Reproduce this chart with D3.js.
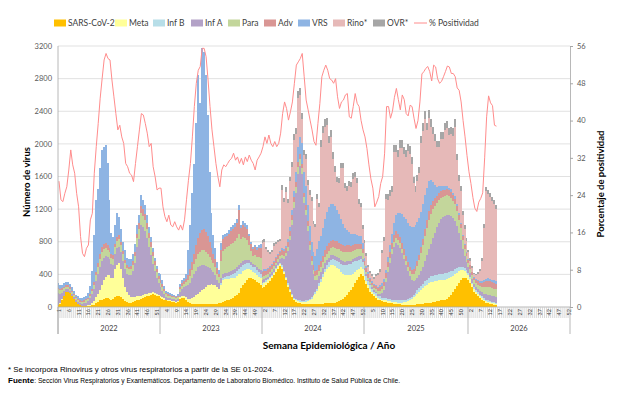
<!DOCTYPE html>
<html>
<head>
<meta charset="utf-8">
<script src="https://cdn.jsdelivr.net/npm/d3@7"></script>
<style>
  body { margin: 0; background: #fff; }
  svg { font-family: Lato, "Liberation Sans", Arial, sans-serif; }
</style>
</head>
<body>
<svg id="chart" width="621" height="394"></svg>
<script>
// ---- data ----
const years = ["2022", "2023", "2024", "2025", "2026"];
const weeksPerYear = [52, 52, 52, 53, 52];
const seriesNames = ["SARS-CoV-2", "Meta", "Inf B", "Inf A", "Para", "Adv", "VRS", "Rino*", "OVR*"];
const seriesColors = ["#FFC000", "#FFFF99", "#B7DEE8", "#B3A2C7", "#C3D69B", "#D99694", "#8EB4E3", "#E6B9B8", "#A6A6A6"];

const sars = [
  // 2022
  20,40,90,140,180,190,170,130,100,60, 40,25,15,15,10,10,15,20,30,50,
  65,80,90,100,110,110,100,90,100,120, 140,140,120,95,70,60,55,55,60,70,
  85,90,100,110,120,130,140,150,155,150, 140,130,
  // 2023
  110,100,90,80,75,70,65,60,55,60, 100,110,110,90,60,45,40,35,35,35,
  35,35,35,35,35,35,35,35,40,40, 45,50,60,70,80,90,100,115,130,150,
  170,230,270,300,330,350,350,340,330,310, 290,270,
  // 2024
  230,250,270,290,320,350,390,430,470,500, 470,400,330,250,180,120,80,60,50,45,
  40,40,40,40,40,40,40,40,40,40, 40,40,45,45,45,50,50,55,60,70,
  80,100,120,150,180,210,250,290,330,370, 400,380,
  // 2025
  330,280,230,190,160,130,110,90,80,70, 65,60,55,50,45,40,40,35,35,30,
  30,30,30,30,30,30,30,35,40,40, 40,45,45,50,55,60,65,70,75,80,
  85,90,100,120,150,180,220,260,300,330, 350,360,350,
  // 2026
  330,290,240,190,160,130,110,90,70,55,45,40,35,30,25
];

const meta = [
  // 2022
  5,5,5,0,0,0,0,0,0,0, 0,0,0,0,5,10,15,25,45,70,
  90,130,180,230,260,280,290,260,250,340, 380,400,340,260,170,120,90,70,60,50,
  45,40,40,35,35,30,30,25,25,20, 20,20,
  // 2023
  20,20,15,10,10,10,10,10,10,10, 20,25,30,35,40,55,70,90,110,130,
  150,170,190,210,230,240,250,240,230,200, 180,220,270,270,260,250,250,240,230,230,
  230,180,170,150,130,110,100,90,90,80, 80,80,
  // 2024
  40,40,35,35,35,30,30,30,30,25, 25,25,25,25,25,25,20,20,20,20,
  20,20,25,30,40,60,90,120,160,220, 270,330,380,420,450,470,470,450,420,390,
  350,310,270,240,210,180,160,140,120,100, 90,80,
  // 2025
  50,40,35,30,25,25,25,20,20,20, 20,20,20,20,20,20,20,20,20,25,
  30,35,45,55,70,90,110,130,150,170, 190,210,230,245,250,250,250,250,250,250,
  245,245,240,230,220,200,180,160,140,120, 100,80,70,
  // 2026
  60,50,40,35,30,30,25,25,20,20,20,20,15,15,15
];

const infB = [
  // 2022
  0,0,0,0,0,0,0,0,0,0, 0,0,0,0,0,0,0,0,0,0,
  0,0,0,0,0,0,0,0,0,0, 0,0,0,0,0,0,0,0,0,0,
  0,0,0,0,0,0,0,0,0,0, 0,0,
  // 2023
  0,0,0,0,0,0,0,0,0,0, 0,0,0,0,0,0,0,0,0,0,
  0,0,0,0,0,0,0,0,0,0, 0,20,30,30,35,40,45,50,55,60,
  70,75,80,80,80,75,70,65,65,60, 60,55,
  // 2024
  20,20,20,15,15,15,15,15,15,15, 15,15,15,15,15,15,15,15,15,15,
  15,15,15,15,20,20,20,20,25,30, 35,40,45,50,55,60,65,70,80,90,
  100,110,120,130,140,140,140,130,120,110, 100,90,
  // 2025
  70,60,50,45,40,35,35,30,30,25, 25,25,25,25,25,25,25,25,25,25,
  25,25,25,25,25,30,35,40,45,50, 55,60,60,65,70,70,75,75,80,80,
  80,80,80,75,70,65,60,55,50,45, 40,35,30,
  // 2026
  25,25,20,20,20,20,15,15,15,15,15,15,15,15,15
];

const infA = [
  // 2022
  150,120,80,60,45,35,30,25,20,20, 20,20,25,30,40,55,80,110,150,200,
  250,280,290,270,250,220,200,180,170,190, 200,200,210,210,220,230,250,270,320,420,
  600,700,870,830,780,680,560,460,350,270, 200,140,
  // 2023
  110,80,50,35,30,30,25,25,25,30, 60,80,100,130,170,200,240,280,300,320,
  320,310,290,260,230,200,170,150,120,90, 70,60,50,45,45,45,45,45,45,45,
  50,50,45,45,40,40,35,35,35,40, 40,45,
  // 2024
  40,35,30,30,30,30,30,35,40,50, 90,150,250,400,600,850,1100,1300,1550,1650,
  1550,1200,1050,850,600,400,250,150,110,90, 80,70,65,60,55,55,50,50,50,45,
  45,40,40,40,40,40,40,40,40,40, 40,35,
  // 2025
  25,20,20,15,15,15,20,25,35,60, 100,200,330,450,560,650,700,680,640,580,
  500,420,340,270,210,170,150,150,160,180, 210,250,300,350,400,460,520,580,630,670,
  690,700,710,700,680,650,600,520,420,330, 220,150,100,
  // 2026
  70,55,45,40,40,45,50,55,60,65,70,70,70,70,70
];

const para = [
  // 2022
  40,40,35,30,25,25,25,25,25,25, 20,20,20,20,25,25,30,40,50,70,
  80,100,110,110,100,90,80,75,70,80, 90,90,85,80,75,70,65,70,80,90,
  110,125,140,140,130,120,110,100,90,75, 65,55,
  // 2023
  50,45,40,30,25,25,25,25,20,25, 40,45,45,50,60,80,100,120,140,160,
  170,180,180,170,160,140,120,110,100,80, 70,220,280,300,310,320,330,340,350,360,
  380,300,290,270,240,180,130,100,120,120, 140,150,
  // 2024
  40,40,35,35,35,35,35,35,35,35, 40,40,40,45,50,60,70,80,85,80,
  75,70,65,60,55,50,50,50,55,60, 65,70,75,80,85,90,95,100,105,110,
  115,120,120,115,110,105,100,100,95,90, 85,75,
  // 2025
  35,30,25,25,25,25,30,30,35,40, 45,50,55,60,65,65,65,60,60,55,
  55,55,55,60,70,90,120,150,180,220, 260,300,330,360,370,360,330,300,280,260,
  250,245,240,230,220,210,200,180,160,140, 110,90,70,
  // 2026
  55,50,45,40,45,50,55,65,80,90,95,95,95,95,90
];

const adv = [
  // 2022
  20,20,20,20,20,15,15,15,15,15, 15,15,15,15,15,15,20,25,30,45,
  55,60,60,60,60,55,50,45,45,45, 50,50,45,40,40,35,35,35,40,45,
  60,70,90,85,80,75,65,60,50,45, 40,35,
  // 2023
  40,35,30,20,20,15,15,15,15,15, 25,30,35,40,60,80,100,130,170,200,
  230,250,260,240,210,180,150,120,100,70, 45,130,140,140,140,150,160,170,170,180,
  290,130,150,140,140,110,85,75,90,90, 110,120,
  // 2024
  60,60,55,55,50,50,50,50,50,50, 60,60,60,60,60,60,60,60,60,60,
  55,55,55,55,55,60,60,60,65,70, 75,80,85,90,90,90,90,90,90,85,
  85,80,80,80,75,75,70,70,65,65, 60,55,
  // 2025
  50,45,40,35,35,35,35,35,40,45, 50,60,65,70,75,80,80,80,75,70,
  65,60,55,50,50,50,55,60,60,70, 80,90,100,110,110,100,95,90,85,85,
  80,80,80,75,75,70,70,65,60,55, 50,45,40,
  // 2026
  40,40,35,35,35,40,45,50,60,70,75,75,75,75,70
];

const vrs = [
  // 2022
  55,50,45,50,40,40,40,45,40,30, 35,30,30,40,45,60,100,220,575,875,
  910,1050,1195,1190,1206,1005,590,257,222,225, 290,220,160,115,125,85,95,90,90,92,
  100,105,130,110,105,95,75,65,50,40, 35,34,
  // 2023
  70,50,35,25,20,20,20,15,15,20, 35,40,40,65,310,540,850,1095,1495,2005,
  1595,2235,2175,1935,1485,855,425,225,130,70, 40,80,50,45,40,45,50,50,50,55,
  60,40,55,45,40,35,30,25,30,30, 40,50,
  // 2024
  15,15,15,15,15,15,15,15,15,15, 20,25,30,35,45,60,80,120,180,220,
  250,250,230,200,180,170,170,190,250,300, 300,340,380,420,440,450,440,420,390,350,
  300,260,220,190,170,150,140,120,110,100, 90,70,
  // 2025
  40,30,25,20,20,20,20,20,25,30, 35,40,60,80,100,150,200,250,300,350,
  400,450,480,500,520,520,500,480,460,430, 430,420,400,360,300,230,160,110,80,60,
  50,40,35,30,30,25,25,20,20,15, 15,15,10,
  // 2026
  10,10,10,10,10,10,15,20,25,30,30,30,30,30,30
];

const rino = [
  // 2022
  0,0,0,0,0,0,0,0,0,0, 0,0,0,0,0,0,0,0,0,0,
  0,0,0,0,0,0,0,0,0,0, 0,0,0,0,0,0,0,0,0,0,
  0,0,0,0,0,0,0,0,0,0, 0,0,
  // 2023
  0,0,0,0,0,0,0,0,0,0, 0,0,0,0,0,0,0,0,0,0,
  0,0,0,0,0,0,0,0,0,0, 0,0,0,0,0,0,0,0,0,0,
  0,0,0,0,0,0,0,0,0,0, 0,0,
  // 2024
  335,335,250,195,155,145,185,160,140,120, 720,575,660,450,565,525,620,470,600,510,
  305,215,335,250,385,495,335,345,625,410, 1095,1160,1130,1065,790,820,560,420,340,380,
  625,680,490,475,555,570,675,705,640,390, 355,170,
  // 2025
  180,120,65,55,65,60,110,140,170,370, 470,870,700,610,525,870,770,690,800,820,
  770,770,880,890,780,540,410,500,545,850, 890,925,700,780,650,590,540,485,480,580,
  585,690,705,650,675,700,850,540,400,385, 245,180,140,
  // 2026
  80,50,40,30,50,85,130,250,640,1075,1040,1005,965,930,885
];

const ovr = [
  // 2022
  0,0,0,0,0,0,0,0,0,0, 0,0,0,0,0,0,0,0,0,0,
  0,0,0,0,0,0,0,0,0,0, 0,0,0,0,0,0,0,0,0,0,
  0,0,0,0,0,0,0,0,0,0, 0,0,
  // 2023
  0,0,0,0,0,0,0,0,0,0, 0,0,0,0,0,0,0,0,0,0,
  0,0,0,0,0,0,0,0,0,0, 0,0,0,0,0,0,0,0,0,0,
  0,0,0,0,0,0,0,0,0,0, 0,0,
  // 2024
  40,35,30,30,25,30,30,30,25,20, 60,50,60,50,60,65,75,75,90,80,
  70,65,65,60,55,55,45,45,60,50, 90,90,95,90,90,85,80,75,65,60,
  60,60,60,60,60,60,65,65,60,55, 50,45,
  // 2025
  40,35,30,25,25,25,25,30,35,40, 50,65,70,65,65,90,90,80,95,95,
  85,85,90,90,85,80,70,75,80,90, 95,100,95,100,95,90,85,80,80,85,
  85,90,90,90,90,90,95,80,70,60, 50,45,40,
  // 2026
  30,30,25,20,20,20,25,30,50,50,50,50,50,50,50
];

const positividad = [
  // 2022
  27.0,23.0,22.6,24.4,25.8,29.4,33.7,30.5,28.7,24.4, 21.5,15.1,11.5,10.8,12.6,13.3,18.7,20.1,28.7,34.4,
  39.4,44.8,49.0,53.0,54.4,53.3,53.0,48.7,45.1,41.5, 38.0,39.0,36.5,35.1,30.8,30.1,28.7,28.3,26.9,30.8,
  34.4,38.0,41.5,41.2,39.4,37.3,34.4,35.1,30.1,28.0, 25.1,25.5,
  // 2023
  25.5,21.5,19.4,18.3,19.7,17.6,17.2,18.3,17.2,16.5, 17.6,16.5,18.7,23.0,27.2,30.8,36.5,43.0,48.0,50.8,
  51.6,55.5,55.5,53.7,48.7,43.0,38.0,34.4,30.8,28.0, 25.8,29.4,30.5,30.1,30.8,31.5,31.9,33.0,31.5,32.2,
  30.8,31.9,30.5,32.2,31.2,32.6,31.5,30.8,29.4,31.5, 32.2,33.0,
  // 2024
  34.4,36.5,35.1,36.9,35.1,34.4,35.5,34.4,35.1,37.3, 41.5,44.0,42.6,40.1,41.9,44.0,48.0,51.9,52.6,53.3,
  54.4,49.4,44.4,42.3,40.1,38.0,35.5,34.7,39.4,43.7, 49.4,50.8,51.9,50.8,49.0,48.7,48.0,49.0,45.1,42.6,
  44.0,44.4,45.5,45.8,40.8,40.5,43.0,45.8,43.7,43.0, 40.0,38.0,
  // 2025
  36.5,34.0,30.5,27.5,25.5,21.5,22.5,23.7,26.5,28.0, 33.0,43.0,43.0,40.5,42.0,45.0,46.9,44.5,42.3,45.5,
  44.5,41.5,41.0,43.3,43.0,40.5,38.3,40.0,44.0,50.0, 50.5,51.2,51.6,50.5,48.5,51.9,51.5,49.0,48.0,48.4,
  49.4,50.5,51.7,51.5,50.1,50.1,49.4,47.0,46.5,44.0, 40.0,36.5,32.5,
  // 2026
  29.0,26.5,23.5,21.2,20.5,22.5,23.3,24.5,32.0,40.8,45.3,43.8,43.2,39.0,38.8
];

const series = [sars, meta, infB, infA, para, adv, vrs, rino, ovr];

// ---- layout ----
const plotL = 58, plotR = 570, plotT = 46, plotB = 307;
const svg = d3.select("#chart");

const slots = [];
weeksPerYear.forEach((n, k) => { for (let w = 1; w <= n; w++) slots.push({ year: years[k], week: w }); });

const x = d3.scaleBand().domain(d3.range(slots.length)).range([plotL, plotR]).padding(0);
const y = d3.scaleLinear().domain([0, 3200]).range([plotB, plotT]);
const y2 = d3.scaleLinear().domain([0, 56]).range([plotB, plotT]);

// gridlines
svg.append("g").selectAll("line")
  .data(d3.range(400, 3201, 400))
  .join("line")
  .attr("x1", plotL).attr("x2", plotR)
  .attr("y1", d => y(d)).attr("y2", d => y(d))
  .attr("stroke", "#d9d9d9").attr("stroke-width", 0.8);

// stacked bars
const rows = sars.map((_, i) => {
  const r = { i };
  seriesNames.forEach((n, k) => r[n] = series[k][i]);
  return r;
});
const stacked = d3.stack().keys(seriesNames)(rows);
const bx0 = i => Math.floor(x(i));
const bx1 = i => Math.floor(x(i) + x.bandwidth());

svg.append("g").attr("shape-rendering", "crispEdges")
  .selectAll("g")
  .data(stacked)
  .join("g")
  .attr("fill", (d, k) => seriesColors[k])
  .selectAll("rect")
  .data(d => d)
  .join("rect")
  .attr("x", d => bx0(d.data.i))
  .attr("width", d => bx1(d.data.i) - bx0(d.data.i))
  .attr("y", d => y(d[1]))
  .attr("height", d => Math.max(0, y(d[0]) - y(d[1])));

// positivity line
svg.append("path")
  .datum(positividad)
  .attr("fill", "none")
  .attr("stroke", "#FF8C8C")
  .attr("stroke-width", 1)
  .attr("d", d3.line().x((d, i) => x(i) + x.bandwidth() / 2).y(d => y2(d)));

// left axis
svg.append("line").attr("x1", plotL).attr("x2", plotL).attr("y1", plotT).attr("y2", 334)
  .attr("stroke", "#a6a6a6").attr("stroke-width", 0.8);
svg.append("g").selectAll("text")
  .data(d3.range(0, 3201, 400))
  .join("text")
  .attr("x", 52).attr("y", d => y(d)).attr("dy", "0.35em")
  .attr("text-anchor", "end").attr("font-size", 7.5).attr("fill", "#595959")
  .text(d => d);

// right axis
const rAxis = svg.append("g").attr("transform", `translate(${plotR},0)`)
  .call(d3.axisRight(y2).tickValues(d3.range(0, 57, 8)).tickSize(3).tickPadding(4));
rAxis.select(".domain").attr("stroke", "#a6a6a6").attr("stroke-width", 0.8);
rAxis.selectAll(".tick line").attr("stroke", "#a6a6a6");
rAxis.selectAll("text").attr("font-size", 7.5).attr("fill", "#595959").attr("font-family", "Lato, 'Liberation Sans', Arial, sans-serif");

// x axis base line
svg.append("line").attr("x1", plotL).attr("x2", plotR).attr("y1", plotB).attr("y2", plotB)
  .attr("stroke", "#a6a6a6").attr("stroke-width", 0.8);

// week ticks
svg.append("g").selectAll("line")
  .data(d3.range(1, slots.length))
  .join("line")
  .attr("x1", i => x(i)).attr("x2", i => x(i))
  .attr("y1", plotB).attr("y2", plotB + 11)
  .attr("stroke", "#c8c8c8").attr("stroke-width", 0.7);

// week labels (every 5th slot)
svg.append("g").selectAll("text")
  .data(slots.map((s, i) => ({ ...s, i })).filter(s => s.i % 5 === 0))
  .join("text")
  .attr("transform", s => `translate(${x(s.i) + x.bandwidth() / 2},${plotB + 2}) rotate(-90)`)
  .attr("text-anchor", "end").attr("dy", "0.35em")
  .attr("font-size", 5.5).attr("fill", "#404040")
  .text(s => s.week);

// year separators and labels
const yearStart = d3.cumsum([0, ...weeksPerYear]);
const xAt = i => i < slots.length ? x(i) : plotR;
svg.append("g").selectAll("line")
  .data(yearStart)
  .join("line")
  .attr("x1", xAt).attr("x2", xAt)
  .attr("y1", plotB).attr("y2", 334)
  .attr("stroke", "#a6a6a6").attr("stroke-width", 0.8);
svg.append("g").selectAll("text")
  .data(years)
  .join("text")
  .attr("x", (d, k) => (xAt(yearStart[k]) + xAt(yearStart[k + 1])) / 2)
  .attr("y", 331)
  .attr("text-anchor", "middle").attr("font-size", 7.5).attr("fill", "#404040")
  .text(d => d);

// axis titles
svg.append("text").attr("transform", "translate(30,182) rotate(-90)")
  .attr("text-anchor", "middle").attr("font-size", 9.5).attr("font-weight", "bold").attr("fill", "#000")
  .text("Número de virus");
svg.append("text").attr("transform", "translate(604,184) rotate(-90)")
  .attr("text-anchor", "middle").attr("font-size", 9.5).attr("font-weight", "bold").attr("fill", "#000")
  .text("Porcentaje de positividad");
svg.append("text").attr("x", 329).attr("y", 349)
  .attr("text-anchor", "middle").attr("font-size", 10).attr("font-weight", "bold").attr("fill", "#000")
  .text("Semana Epidemiológica / Año");

// legend
const legendX = [54, 115, 153, 191, 228, 264, 298, 333, 373];
const legendY = 23;
const lg = svg.append("g");
seriesNames.forEach((n, k) => {
  lg.append("rect").attr("x", legendX[k]).attr("y", legendY - 3.5).attr("width", 12).attr("height", 7)
    .attr("fill", seriesColors[k]);
  lg.append("text").attr("x", legendX[k] + 14).attr("y", legendY).attr("dy", "0.35em")
    .attr("font-size", 8.5).attr("fill", "#404040").text(n);
});
lg.append("line").attr("x1", 414).attr("x2", 427).attr("y1", legendY).attr("y2", legendY)
  .attr("stroke", "#FF8C8C").attr("stroke-width", 1);
lg.append("text").attr("x", 429).attr("y", legendY).attr("dy", "0.35em")
  .attr("font-size", 8.5).attr("fill", "#404040").text("% Positividad");

// footnotes
const foot = svg.append("g").attr("font-family", "'Liberation Sans', Arial, sans-serif").attr("font-size", 8).attr("fill", "#000");
foot.append("text").attr("x", 8).attr("y", 372)
  .attr("textLength", 266).attr("lengthAdjust", "spacingAndGlyphs")
  .text("* Se incorpora Rinovirus y otros virus respiratorios a partir de la SE 01-2024.");
const fuente = foot.append("text").attr("x", 8).attr("y", 383).attr("font-weight", "bold").text("Fuente");
const fw = fuente.node().getComputedTextLength();
foot.append("text").attr("x", 8 + fw).attr("y", 383)
  .attr("textLength", 392 - fw).attr("lengthAdjust", "spacingAndGlyphs")
  .text(": Sección Virus Respiratorios y Exantemáticos. Departamento de Laboratorio Biomédico. Instituto de Salud Pública de Chile.");
</script>
</body>
</html>
